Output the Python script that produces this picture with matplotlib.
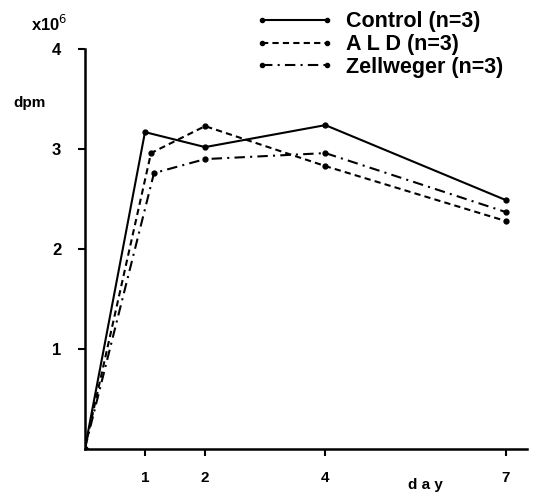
import matplotlib
matplotlib.use("Agg")
import matplotlib.pyplot as plt

plt.rcParams['font.family'] = ['Liberation Sans', 'DejaVu Sans']

# values (dpm x 10^6)
days_control = [0, 1, 2, 4, 7]
control = [0, 3.17, 3.02, 3.24, 2.49]
days_ald = [0, 1.1, 2, 4, 7]
ald = [0, 2.96, 3.23, 2.83, 2.28]
days_zell = [0, 1.15, 2, 4, 7]
zell = [0, 2.76, 2.90, 2.96, 2.37]
labels = ["Control (n=3)", "A L D (n=3)", "Zellweger (n=3)"]
xticks = [1, 2, 4, 7]
yticks = [1, 2, 3, 4]

fig = plt.figure(figsize=(5.37, 4.97), dpi=100)
ax = fig.add_axes([0.158, 0.097, 0.823, 0.804])

l1, = ax.plot(days_control, control, color='black', lw=1.5, ls='-',
              marker='o', ms=3.5)
l2, = ax.plot(days_ald, ald, color='black', lw=1.5, ls=(0, (3, 2)),
              marker='o', ms=3.5)
l3, = ax.plot(days_zell, zell, color='black', lw=1.5, ls=(0, (5, 2.5, 1, 2.5)),
              marker='o', ms=3.5)

ax.set_xlim(0, 7.35)
ax.set_ylim(0, 4)
ax.set_xticks(xticks)
ax.set_yticks(yticks)
ax.set_xticklabels([str(t) for t in xticks], fontsize=11, fontweight='bold')
ax.set_yticklabels([str(t) for t in yticks], fontsize=12, fontweight='bold')
ax.tick_params(axis='both', direction='out', length=5, width=1.5, pad=12)
ax.tick_params(axis='x', pad=11)

for s in ['top', 'right']:
    ax.spines[s].set_visible(False)
for s in ['left', 'bottom']:
    ax.spines[s].set_linewidth(1.8)

fig.text(0.058, 0.952, "x10$^{6}$", fontsize=12, fontweight='bold', va='center')
fig.text(0.024, 0.793, "dpm", fontsize=11, fontweight='bold', va='center')
fig.text(0.792, 0.024, "d a y", fontsize=11, fontweight='bold', va='center', ha='center')

fig.legend([l1, l2, l3], labels, loc='upper left', bbox_to_anchor=(0.44, 1.016),
           frameon=False, numpoints=2, handlelength=3.6, handletextpad=0.6,
           labelspacing=0.08, markerscale=0.85,
           prop={'size': 15.5, 'weight': 'bold'})

fig.savefig("out.png", dpi=100)
